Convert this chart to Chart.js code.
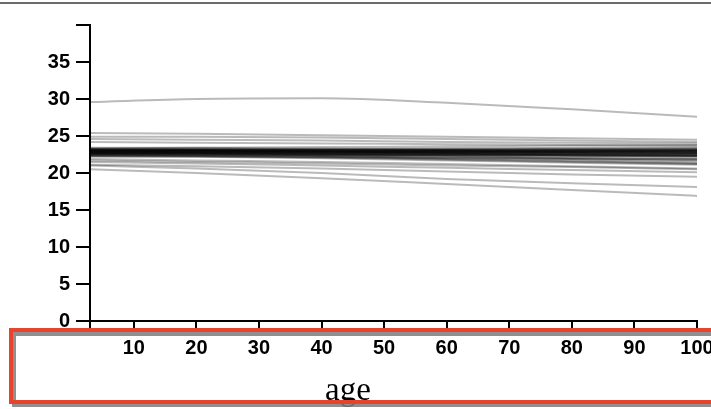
<!DOCTYPE html>
<html>
<head>
<meta charset="utf-8">
<script src="https://cdn.jsdelivr.net/npm/chart.js@4"></script>
<style>
    html, body { margin: 0; padding: 0; background: #fff; }
    #wrap { width: 711px; height: 409px; position: relative; }
</style>
</head>
<body>
<div id="wrap"><canvas id="ageChart"></canvas></div>
<script>
const AGES = [3, 20, 40, 60, 80, 100];

const X_TICKS = [3, 10, 20, 30, 40, 50, 60, 70, 80, 90, 100];
const Y_TICKS = [0, 5, 10, 15, 20, 25, 30, 35, 40];

const TOP_OUTLIER = [29.6, 30.0, 30.1, 29.5, 28.6, 27.6];

const UPPER_LINES = [
    [25.4, 25.3, 25.1, 24.9, 24.7, 24.5],
    [24.9, 24.9, 24.8, 24.6, 24.4, 24.2],
    [24.6, 24.5, 24.4, 24.2, 24.1, 24.0],
    [24.2, 24.1, 24.0, 23.9, 23.8, 23.7]
];

const CORE_LINES = [
    [23.4, 23.4, 23.3, 23.3, 23.3, 23.3],
    [23.3, 23.3, 23.2, 23.1, 23.0, 22.9],
    [23.2, 23.2, 23.2, 23.2, 23.2, 23.2],
    [23.2, 23.1, 23.0, 22.9, 22.8, 22.7],
    [23.1, 23.1, 23.1, 23.0, 23.0, 23.0],
    [23.1, 23.0, 22.9, 22.7, 22.5, 22.3],
    [23.0, 23.0, 23.0, 23.0, 23.1, 23.1],
    [23.0, 22.9, 22.8, 22.6, 22.4, 22.2],
    [22.9, 22.9, 22.9, 22.8, 22.8, 22.8],
    [22.9, 22.8, 22.6, 22.4, 22.2, 22.0],
    [22.8, 22.8, 22.8, 22.9, 22.9, 23.0],
    [22.8, 22.7, 22.5, 22.3, 22.0, 21.8],
    [22.7, 22.7, 22.7, 22.6, 22.6, 22.5],
    [22.7, 22.6, 22.4, 22.2, 21.9, 21.6],
    [22.6, 22.6, 22.6, 22.6, 22.6, 22.6],
    [22.6, 22.5, 22.3, 22.0, 21.7, 21.4],
    [22.5, 22.5, 22.4, 22.4, 22.3, 22.3],
    [22.5, 22.4, 22.2, 21.9, 21.6, 21.3],
    [22.4, 22.4, 22.4, 22.4, 22.4, 22.4],
    [22.4, 22.3, 22.1, 21.8, 21.5, 21.2],
    [22.3, 22.3, 22.2, 22.1, 22.0, 21.9],
    [22.3, 22.2, 22.0, 21.7, 21.4, 21.1],
    [22.2, 22.2, 22.1, 22.0, 21.9, 21.8],
    [23.3, 23.4, 23.5, 23.6, 23.7, 23.8],
    [23.0, 23.1, 23.2, 23.3, 23.4, 23.5],
    [22.9, 23.0, 23.0, 23.1, 23.2, 23.3],
    [22.6, 22.7, 22.7, 22.8, 22.9, 23.0],
    [23.1, 23.1, 23.0, 23.0, 22.9, 22.9],
    [22.8, 22.8, 22.7, 22.7, 22.6, 22.6],
    [22.5, 22.5, 22.5, 22.5, 22.5, 22.4],
    [23.2, 23.2, 23.1, 23.1, 23.0, 23.0],
    [23.1, 23.1, 23.1, 23.1, 23.1, 23.2],
    [23.0, 23.0, 22.9, 22.9, 22.8, 22.7],
    [22.9, 22.9, 22.9, 22.9, 22.9, 22.9],
    [22.8, 22.8, 22.8, 22.7, 22.7, 22.7],
    [22.7, 22.7, 22.6, 22.5, 22.4, 22.3],
    [22.6, 22.6, 22.5, 22.5, 22.4, 22.4],
    [22.9, 22.9, 23.0, 23.0, 23.1, 23.1],
    [23.0, 23.0, 22.9, 22.8, 22.7, 22.6],
    [22.7, 22.8, 22.8, 22.8, 22.8, 22.8]
];

const LOWER_LINES = [
    [21.9, 21.7, 21.5, 21.2, 20.9, 20.6],
    [21.7, 21.5, 21.3, 21.0, 20.8, 20.5],
    [21.5, 21.3, 21.0, 20.7, 20.4, 20.1],
    [21.1, 20.9, 20.6, 20.2, 19.8, 19.5],
    [21.0, 20.6, 20.0, 19.2, 18.6, 18.1],
    [20.5, 20.0, 19.3, 18.5, 17.7, 16.9]
];

const TICK_FONT = { family: '"Liberation Sans", Arial, Helvetica, sans-serif', size: 20, weight: 'bold' };

function toPoints(values) {
    return values.map((v, i) => ({ x: AGES[i], y: v }));
}

function makeDataset(values) {
    return {
        data: toPoints(values),
        borderColor: 'rgba(0, 0, 0, 0.27)',
        borderWidth: 2,
        pointRadius: 0,
        fill: false,
        cubicInterpolationMode: 'monotone'
    };
}

const allLines = [TOP_OUTLIER, ...UPPER_LINES, ...CORE_LINES, ...LOWER_LINES];

// frame line at the top, the rough red box and the "age" caption
const decorations = {
    id: 'decorations',
    afterDraw(chart) {
        const ctx = chart.ctx;
        ctx.save();
        ctx.fillStyle = '#6b6b6b';
        ctx.fillRect(0, 2, chart.width, 2);

        ctx.font = '33px "Liberation Serif", "Times New Roman", serif';
        ctx.fillStyle = '#000';
        ctx.textAlign = 'center';
        ctx.textBaseline = 'alphabetic';
        ctx.fillText('age', 348, 400);

        ctx.lineWidth = 4;
        ctx.strokeStyle = 'rgba(125, 125, 125, 0.85)';
        ctx.strokeRect(14, 334, 720, 71);
        ctx.strokeStyle = '#e8432b';
        ctx.strokeRect(11, 330, 720, 72);
        ctx.restore();
    }
};

new Chart(document.getElementById('ageChart'), {
    type: 'line',
    data: { datasets: allLines.map(makeDataset) },
    plugins: [decorations],
    options: {
        responsive: true,
        maintainAspectRatio: false,
        animation: false,
        events: [],
        layout: { padding: { top: 25, right: 14, left: 0, bottom: 0 } },
        plugins: { legend: { display: false }, tooltip: { enabled: false } },
        scales: {
            x: {
                type: 'linear',
                min: 3,
                max: 100,
                afterBuildTicks: (scale) => { scale.ticks = X_TICKS.map(v => ({ value: v })); },
                afterFit: (scale) => {
                    scale.height = 88;
                    scale.paddingLeft = 0;
                    scale.paddingRight = 0;
                },
                border: { color: '#000', width: 2 },
                grid: { drawOnChartArea: false, drawTicks: true, tickLength: 8, color: '#000', lineWidth: 2 },
                ticks: {
                    color: '#000',
                    font: TICK_FONT,
                    padding: 7,
                    maxRotation: 0,
                    autoSkip: false,
                    callback: (v) => (v % 10 === 0 ? String(v) : '')
                }
            },
            y: {
                type: 'linear',
                min: 0,
                max: 40,
                afterBuildTicks: (scale) => { scale.ticks = Y_TICKS.map(v => ({ value: v })); },
                afterFit: (scale) => {
                    scale.width = 90;
                    scale.paddingTop = 0;
                    scale.paddingBottom = 0;
                },
                border: { color: '#000', width: 2 },
                grid: { drawOnChartArea: false, drawTicks: true, tickLength: 14, color: '#000', lineWidth: 2 },
                ticks: {
                    color: '#000',
                    font: TICK_FONT,
                    padding: 6,
                    autoSkip: false,
                    callback: (v) => (v === 40 ? '' : String(v))
                }
            }
        }
    }
});
</script>
</body>
</html>
